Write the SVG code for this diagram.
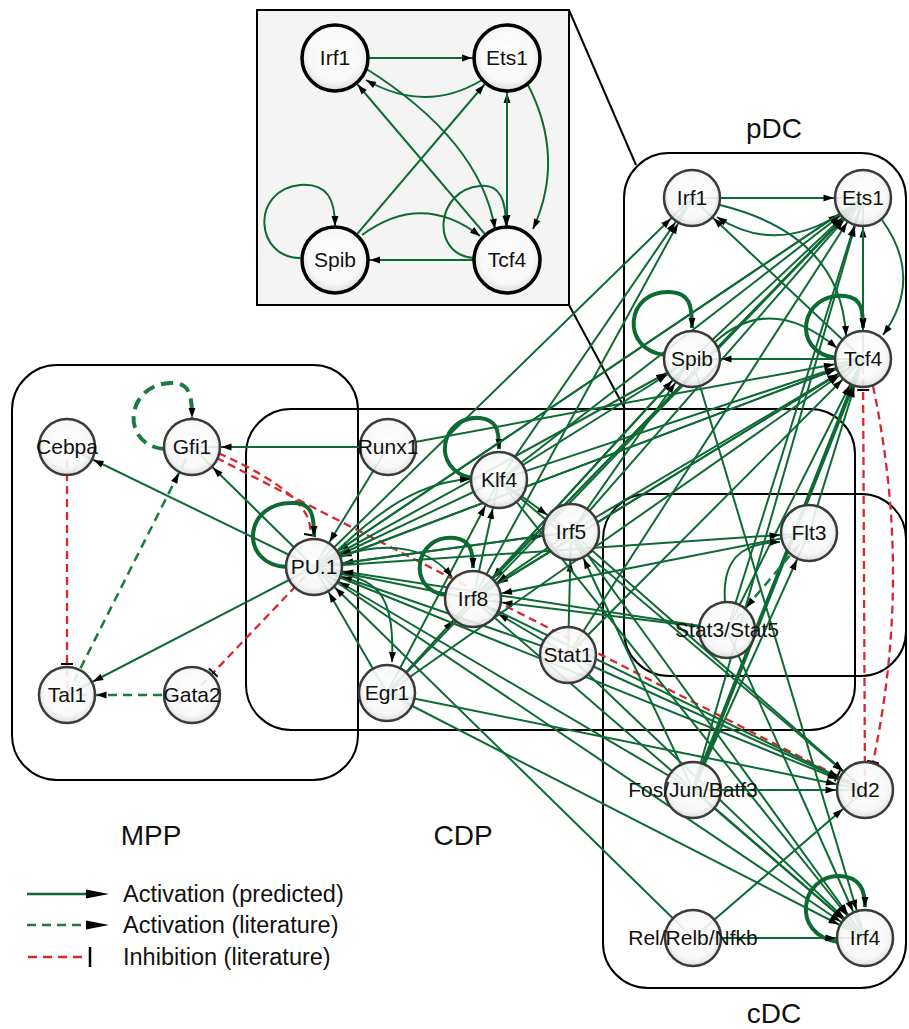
<svg xmlns="http://www.w3.org/2000/svg" width="909" height="1029" viewBox="0 0 909 1029">
<style>
.box{fill:none;stroke:#000;stroke-width:2}
.e{stroke:#0d6a33;stroke-width:2;fill:none}
.ek{stroke:#0d6a33;stroke-width:4;fill:none}
.ed{stroke:#1b7a3e;stroke-width:2.5;fill:none;stroke-dasharray:9 6}
.edk{stroke:#1b7a3e;stroke-width:4;fill:none;stroke-dasharray:12 7}
.r{stroke:#d9272e;stroke-width:2.3;fill:none;stroke-dasharray:8 5}
.n circle{fill:url(#g);fill-opacity:0.9;stroke:#3a3a3a;stroke-width:2.5}
.ni circle{fill:url(#g);stroke:#000;stroke-width:3.5}
text{font-family:"Liberation Sans",Arial,sans-serif;fill:#111}
.lb{font-size:21px;text-anchor:middle}
.rg{font-size:28px;text-anchor:middle}
.lg{font-size:23.5px}
</style>
<defs>
<radialGradient id="g" cx="0.5" cy="0.45" r="0.55">
<stop offset="0" stop-color="#ffffff"/><stop offset="0.75" stop-color="#f7f7f7"/><stop offset="1" stop-color="#dcdcdc"/>
</radialGradient>
<marker id="a" markerUnits="userSpaceOnUse" markerWidth="1" markerHeight="1" refX="29.5" refY="0" orient="auto" overflow="visible"><path d="M-10,-3.5 L0,0 L-10,3.5 z" fill="#000"/></marker>
<marker id="ai" markerUnits="userSpaceOnUse" markerWidth="1" markerHeight="1" refX="35" refY="0" orient="auto" overflow="visible"><path d="M-10,-3.5 L0,0 L-10,3.5 z" fill="#000"/></marker>
<marker id="a0" markerUnits="userSpaceOnUse" markerWidth="1" markerHeight="1" refX="0" refY="0" orient="auto" overflow="visible"><path d="M-10,-3.5 L0,0 L-10,3.5 z" fill="#000"/></marker>
<marker id="t" markerUnits="userSpaceOnUse" markerWidth="1" markerHeight="1" refX="31" refY="0" orient="auto" overflow="visible"><path d="M0,-6 L0,6" stroke="#000" stroke-width="2"/></marker>
<marker id="t0" markerUnits="userSpaceOnUse" markerWidth="1" markerHeight="1" refX="0" refY="0" orient="auto" overflow="visible"><path d="M0,-6 L0,6" stroke="#000" stroke-width="2"/></marker>
</defs>
<rect width="909" height="1029" fill="#fff"/>

<g id="regions">
<rect class="box" x="12" y="365" width="346" height="415" rx="45"/>
<rect class="box" x="246" y="409" width="609" height="321" rx="45"/>
<rect class="box" x="624" y="153" width="282" height="523" rx="45"/>
<rect class="box" x="603" y="494" width="303" height="494" rx="45"/>
<line class="box" x1="569" y1="10" x2="636" y2="165"/>
<line class="box" x1="569" y1="305" x2="625" y2="409"/>
</g>

<g id="connectors">
<!-- MPP -->
<line class="e" x1="314" y1="567" x2="192" y2="447" marker-end="url(#a)"/>
<line class="e" x1="314" y1="567" x2="67" y2="447" marker-end="url(#a)"/>
<line class="e" x1="314" y1="567" x2="67" y2="695" marker-end="url(#a)"/>
<line class="e" x1="388" y1="447" x2="192" y2="447" marker-end="url(#a)"/>
<line class="ed" x1="192" y1="695" x2="67" y2="695" marker-end="url(#a)"/>
<line class="ed" x1="67" y1="695" x2="192" y2="447" marker-end="url(#a)"/>
<path class="edk" d="M164,449 C120,445 125,385 170,383 C190,382 192,395 192,418" marker-end="url(#a0)"/>
<line class="r" x1="67" y1="447" x2="67" y2="695" marker-end="url(#t)"/>
<line class="r" x1="314" y1="567" x2="192" y2="695" marker-end="url(#t)"/>
<path class="r" d="M218,453 Q316,496 310,535" marker-end="url(#t0)"/>
<line class="r" x1="205" y1="452" x2="865" y2="790" marker-end="url(#t)"/>
<line class="r" x1="865" y1="790" x2="863" y2="359" marker-end="url(#t)"/>
<path class="r" d="M873,386 Q913,575 873,762" marker-end="url(#t0)"/>
<!-- self loops -->
<path class="ek" d="M287,567 C238,565 243,500 295,503 C312,504 314,515 314,536" marker-end="url(#a0)"/>
<path class="ek" d="M472,478 C430,470 440,415 480,418 C497,420 499,430 499,449" marker-end="url(#a0)"/>
<path class="ek" d="M446,595 C405,590 415,533 455,538 C470,540 473,550 473,568" marker-end="url(#a0)"/>
<path class="ek" d="M838,942 C790,935 800,875 840,876 C860,877 865,890 865,907" marker-end="url(#a0)"/>
<path class="ek" d="M665,355 C620,350 625,290 670,292 C690,293 692,305 692,328" marker-end="url(#a0)"/>
<path class="ek" d="M836,358 C790,352 800,292 845,296 C862,298 863,310 863,328" marker-end="url(#a0)"/>
<!-- CDP internal -->
<line class="e" x1="388" y1="447" x2="314" y2="567" marker-end="url(#a)"/>
<line class="e" x1="473" y1="599" x2="314" y2="567" marker-end="url(#a)"/>
<line class="e" x1="571" y1="532" x2="314" y2="567" marker-end="url(#a)"/>
<line class="e" x1="499" y1="480" x2="314" y2="567" marker-end="url(#a)"/>
<line class="e" x1="568" y1="655" x2="314" y2="567" marker-end="url(#a)"/>
<line class="e" x1="387" y1="693" x2="314" y2="567" marker-end="url(#a)"/>
<line class="e" x1="727" y1="630" x2="314" y2="567" marker-end="url(#a)"/>
<line class="e" x1="693" y1="790" x2="314" y2="567" marker-end="url(#a)"/>
<line class="e" x1="693" y1="938" x2="314" y2="567" marker-end="url(#a)"/>
<line class="e" x1="863" y1="359" x2="314" y2="567" marker-end="url(#a)"/>
<line class="e" x1="863" y1="198" x2="314" y2="567" marker-end="url(#a)"/>
<line class="e" x1="473" y1="599" x2="499" y2="480" marker-end="url(#a)"/>
<line class="e" x1="499" y1="480" x2="571" y2="532" marker-end="url(#a)"/>
<line class="e" x1="568" y1="655" x2="571" y2="532" marker-end="url(#a)"/>
<line class="e" x1="387" y1="693" x2="473" y2="599" marker-end="url(#a)"/>
<line class="e" x1="571" y1="532" x2="473" y2="599" marker-end="url(#a)"/>
<line class="e" x1="568" y1="655" x2="473" y2="599" marker-end="url(#a)"/>
<line class="e" x1="727" y1="630" x2="473" y2="599" marker-end="url(#a)"/>
<line class="e" x1="809" y1="533" x2="473" y2="599" marker-end="url(#a)"/>
<line class="e" x1="863" y1="359" x2="473" y2="599" marker-end="url(#a)"/>
<line class="e" x1="863" y1="198" x2="473" y2="599" marker-end="url(#a)"/>
<line class="e" x1="692" y1="359" x2="473" y2="599" marker-end="url(#a)"/>
<line class="e" x1="387" y1="693" x2="499" y2="480" marker-end="url(#a)"/>
<line class="e" x1="693" y1="790" x2="571" y2="532" marker-end="url(#a)"/>
<line class="e" x1="314" y1="567" x2="571" y2="532" marker-end="url(#a)"/>
<path class="e" d="M341,574 C380,580 395,600 392,662" marker-end="url(#a0)"/>
<path class="e" d="M341,556 C390,540 430,548 452,577" marker-end="url(#a0)"/>
<path class="e" d="M338,550 C380,510 420,482 470,479" marker-end="url(#a0)"/>
<!-- to pDC -->
<line class="e" x1="314" y1="567" x2="692" y2="198" marker-end="url(#a)"/>
<line class="e" x1="314" y1="567" x2="863" y2="198" marker-end="url(#a)"/>
<line class="e" x1="314" y1="567" x2="692" y2="359" marker-end="url(#a)"/>
<line class="e" x1="314" y1="567" x2="863" y2="359" marker-end="url(#a)"/>
<line class="e" x1="473" y1="599" x2="692" y2="198" marker-end="url(#a)"/>
<line class="e" x1="473" y1="599" x2="863" y2="198" marker-end="url(#a)"/>
<line class="e" x1="473" y1="599" x2="692" y2="359" marker-end="url(#a)"/>
<line class="e" x1="473" y1="599" x2="863" y2="359" marker-end="url(#a)"/>
<line class="e" x1="499" y1="480" x2="692" y2="198" marker-end="url(#a)"/>
<line class="e" x1="499" y1="480" x2="863" y2="198" marker-end="url(#a)"/>
<line class="e" x1="499" y1="480" x2="692" y2="359" marker-end="url(#a)"/>
<line class="e" x1="499" y1="480" x2="863" y2="359" marker-end="url(#a)"/>
<line class="e" x1="571" y1="532" x2="863" y2="198" marker-end="url(#a)"/>
<line class="e" x1="571" y1="532" x2="863" y2="359" marker-end="url(#a)"/>
<line class="e" x1="571" y1="532" x2="692" y2="359" marker-end="url(#a)"/>
<line class="e" x1="568" y1="655" x2="863" y2="198" marker-end="url(#a)"/>
<line class="e" x1="568" y1="655" x2="863" y2="359" marker-end="url(#a)"/>
<line class="e" x1="387" y1="693" x2="863" y2="359" marker-end="url(#a)"/>
<line class="e" x1="387" y1="693" x2="863" y2="198" marker-end="url(#a)"/>
<line class="e" x1="388" y1="447" x2="863" y2="359" marker-end="url(#a)"/>
<line class="e" x1="727" y1="630" x2="863" y2="359" marker-end="url(#a)"/>
<line class="e" x1="727" y1="630" x2="863" y2="198" marker-end="url(#a)"/>
<line class="ek" x1="693" y1="790" x2="863" y2="359" marker-end="url(#a)"/>
<line class="e" x1="693" y1="790" x2="863" y2="198" marker-end="url(#a)"/>
<line class="e" x1="809" y1="533" x2="863" y2="359" marker-end="url(#a)"/>
<line class="e" x1="314" y1="567" x2="809" y2="533" marker-end="url(#a)"/>
<line class="e" x1="693" y1="790" x2="809" y2="533" marker-end="url(#a)"/>
<path class="e" d="M725,602 C722,560 740,543 780,542" marker-end="url(#a0)"/>
<line class="ed" x1="809" y1="533" x2="727" y2="630" marker-end="url(#a)"/>
<!-- pDC internal -->
<line class="e" x1="692" y1="198" x2="863" y2="198" marker-end="url(#a)"/>
<path class="e" d="M840,214 Q775,255 717,217" marker-end="url(#a0)"/>
<path class="e" d="M720,205 Q841,235 846,336" marker-end="url(#a0)"/>
<line class="e" x1="863" y1="359" x2="692" y2="198" marker-end="url(#a)"/>
<line class="e" x1="692" y1="359" x2="863" y2="198" marker-end="url(#a)"/>
<path class="e" d="M882,220 Q924,278 883,335" marker-end="url(#a0)"/>
<line class="e" x1="863" y1="359" x2="863" y2="198" marker-end="url(#a)"/>
<line class="e" x1="863" y1="198" x2="863" y2="359" marker-end="url(#a)"/>
<path class="e" d="M715,342 Q770,292 837,348" marker-end="url(#a0)"/>
<line class="e" x1="863" y1="359" x2="692" y2="359" marker-end="url(#a)"/>
<!-- to cDC -->
<line class="e" x1="314" y1="567" x2="865" y2="790" marker-end="url(#a)"/>
<line class="e" x1="314" y1="567" x2="865" y2="938" marker-end="url(#a)"/>
<line class="e" x1="473" y1="599" x2="865" y2="790" marker-end="url(#a)"/>
<line class="e" x1="473" y1="599" x2="865" y2="938" marker-end="url(#a)"/>
<line class="e" x1="571" y1="532" x2="865" y2="790" marker-end="url(#a)"/>
<line class="e" x1="571" y1="532" x2="865" y2="938" marker-end="url(#a)"/>
<line class="e" x1="568" y1="655" x2="865" y2="790" marker-end="url(#a)"/>
<line class="e" x1="568" y1="655" x2="865" y2="938" marker-end="url(#a)"/>
<line class="e" x1="387" y1="693" x2="865" y2="790" marker-end="url(#a)"/>
<line class="e" x1="387" y1="693" x2="865" y2="938" marker-end="url(#a)"/>
<line class="e" x1="499" y1="480" x2="865" y2="938" marker-end="url(#a)"/>
<line class="e" x1="499" y1="480" x2="865" y2="790" marker-end="url(#a)"/>
<line class="e" x1="693" y1="790" x2="865" y2="790" marker-end="url(#a)"/>
<line class="e" x1="693" y1="790" x2="865" y2="938" marker-end="url(#a)"/>
<line class="e" x1="693" y1="938" x2="865" y2="790" marker-end="url(#a)"/>
<line class="e" x1="693" y1="938" x2="865" y2="938" marker-end="url(#a)"/>
<line class="e" x1="727" y1="630" x2="865" y2="938" marker-end="url(#a)"/>
<line class="e" x1="692" y1="359" x2="865" y2="938" marker-end="url(#a)"/>
</g>

<g id="node-Cebpa" class="n"><circle cx="67" cy="447" r="28"/><text class="lb" x="67" y="454">Cebpa</text></g>
<g id="node-Gfi1" class="n"><circle cx="192" cy="447" r="28"/><text class="lb" x="192" y="454">Gfi1</text></g>
<g id="node-PU1" class="n"><circle cx="314" cy="567" r="28"/><text class="lb" x="314" y="574">PU.1</text></g>
<g id="node-Tal1" class="n"><circle cx="67" cy="695" r="28"/><text class="lb" x="67" y="702">Tal1</text></g>
<g id="node-Gata2" class="n"><circle cx="192" cy="695" r="28"/><text class="lb" x="192" y="702">Gata2</text></g>
<g id="node-Runx1" class="n"><circle cx="388" cy="447" r="28"/><text class="lb" x="388" y="454">Runx1</text></g>
<g id="node-Klf4" class="n"><circle cx="499" cy="480" r="28"/><text class="lb" x="499" y="487">Klf4</text></g>
<g id="node-Irf5" class="n"><circle cx="571" cy="532" r="28"/><text class="lb" x="571" y="539">Irf5</text></g>
<g id="node-Irf8" class="n"><circle cx="473" cy="599" r="28"/><text class="lb" x="473" y="606">Irf8</text></g>
<g id="node-Stat1" class="n"><circle cx="568" cy="655" r="28"/><text class="lb" x="568" y="662">Stat1</text></g>
<g id="node-Egr1" class="n"><circle cx="387" cy="693" r="28"/><text class="lb" x="387" y="700">Egr1</text></g>
<g id="node-Irf1" class="n"><circle cx="692" cy="198" r="28"/><text class="lb" x="692" y="205">Irf1</text></g>
<g id="node-Ets1" class="n"><circle cx="863" cy="198" r="28"/><text class="lb" x="863" y="205">Ets1</text></g>
<g id="node-Spib" class="n"><circle cx="692" cy="359" r="28"/><text class="lb" x="692" y="366">Spib</text></g>
<g id="node-Tcf4" class="n"><circle cx="863" cy="359" r="28"/><text class="lb" x="863" y="366">Tcf4</text></g>
<g id="node-Flt3" class="n"><circle cx="809" cy="533" r="28"/><text class="lb" x="809" y="540">Flt3</text></g>
<g id="node-Stat3Stat5" class="n"><circle cx="727" cy="630" r="28"/><text class="lb" x="727" y="637">Stat3/Stat5</text></g>
<g id="node-Id2" class="n"><circle cx="865" cy="790" r="28"/><text class="lb" x="865" y="797">Id2</text></g>
<g id="node-FosJunBatf3" class="n"><circle cx="693" cy="790" r="28"/><text class="lb" x="693" y="797">Fos/Jun/Batf3</text></g>
<g id="node-RelRelbNfkb" class="n"><circle cx="693" cy="938" r="28"/><text class="lb" x="693" y="945">Rel/Relb/Nfkb</text></g>
<g id="node-Irf4" class="n"><circle cx="865" cy="938" r="28"/><text class="lb" x="865" y="945">Irf4</text></g>

<g id="inset">
<rect x="257" y="10" width="312" height="295" fill="#f4f4f4" stroke="#000" stroke-width="2"/>
<g id="inset-connectors">
<line class="e" x1="335" y1="58" x2="507" y2="58" marker-end="url(#ai)"/>
<path class="e" d="M482,80 Q426,114 366,80" marker-end="url(#a0)"/>
<path class="e" d="M365,68 Q480,140 495,229" marker-end="url(#a0)"/>
<line class="e" x1="507" y1="260" x2="335" y2="58" marker-end="url(#ai)"/>
<line class="e" x1="335" y1="260" x2="507" y2="58" marker-end="url(#ai)"/>
<path class="e" d="M527,83 Q566,157 533,229" marker-end="url(#a0)"/>
<line class="e" x1="507" y1="260" x2="507" y2="58" marker-end="url(#ai)"/>
<line class="e" x1="507" y1="58" x2="507" y2="260" marker-end="url(#ai)"/>
<path class="e" d="M300,258 C255,258 250,190 300,185 C328,183 335,200 335,226" marker-end="url(#a0)"/>
<path class="e" d="M362,235 Q422,191 480,236" marker-end="url(#a0)"/>
<line class="e" x1="507" y1="260" x2="335" y2="260" marker-end="url(#ai)"/>
<path class="e" d="M474,258 C430,255 435,190 480,186 C500,184 506,200 506,226" marker-end="url(#a0)"/>
</g>
<g id="inset-Irf1" class="ni"><circle cx="335" cy="58" r="33"/><text class="lb" x="335" y="65">Irf1</text></g>
<g id="inset-Ets1" class="ni"><circle cx="507" cy="58" r="33"/><text class="lb" x="507" y="65">Ets1</text></g>
<g id="inset-Spib" class="ni"><circle cx="335" cy="260" r="33"/><text class="lb" x="335" y="267">Spib</text></g>
<g id="inset-Tcf4" class="ni"><circle cx="507" cy="260" r="33"/><text class="lb" x="507" y="267">Tcf4</text></g>
</g>

<g id="region-labels">
<text class="rg" x="774" y="138">pDC</text>
<text class="rg" x="151" y="845">MPP</text>
<text class="rg" x="463" y="845">CDP</text>
<text class="rg" x="774" y="1023">cDC</text>
</g>

<g id="legend">
<line x1="27" y1="894" x2="100" y2="894" stroke="#0d6a33" stroke-width="2.5"/>
<path d="M86,889.5 L109,894 L86,898.5 z" fill="#000"/>
<line x1="27" y1="925" x2="100" y2="925" stroke="#1b7a3e" stroke-width="2.5" stroke-dasharray="9 6"/>
<path d="M86,920.5 L109,925 L86,929.5 z" fill="#000"/>
<line x1="28" y1="957" x2="88" y2="957" stroke="#d9272e" stroke-width="2.5" stroke-dasharray="9 6"/>
<line x1="90" y1="947" x2="90" y2="967" stroke="#000" stroke-width="2.5"/>
<text class="lg" x="123" y="902">Activation (predicted)</text>
<text class="lg" x="123" y="933">Activation (literature)</text>
<text class="lg" x="123" y="965">Inhibition (literature)</text>
</g>
</svg>
